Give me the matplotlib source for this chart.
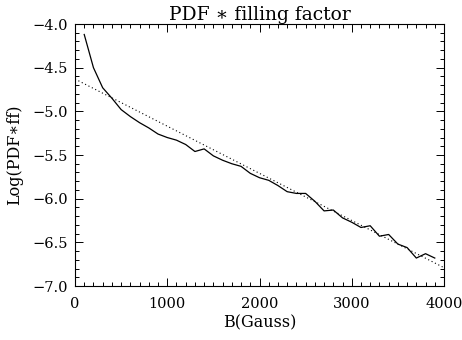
import numpy as np
import matplotlib
matplotlib.use('Agg')
import matplotlib.pyplot as plt
from matplotlib.ticker import MultipleLocator, FuncFormatter

plt.rcParams['font.family'] = ['DejaVu Serif', 'DejaVu Sans']

# B field (Gauss) and log(PDF*ff)
b = [100, 200, 300, 400, 500, 600, 700, 800, 900, 1000,
     1100, 1200, 1300, 1400, 1500, 1600, 1700, 1800, 1900, 2000,
     2100, 2200, 2300, 2400, 2500, 2600, 2700, 2800, 2900, 3000,
     3100, 3200, 3300, 3400, 3500, 3600, 3700, 3800, 3900]
logpdf = [-4.12, -4.50, -4.73, -4.85, -4.98, -5.06, -5.13, -5.19, -5.26, -5.30,
          -5.33, -5.38, -5.46, -5.43, -5.51, -5.56, -5.60, -5.63, -5.71, -5.76,
          -5.79, -5.85, -5.92, -5.94, -5.94, -6.03, -6.14, -6.13, -6.22, -6.27,
          -6.33, -6.31, -6.43, -6.41, -6.52, -6.56, -6.68, -6.63, -6.68]

# linear fit (slope, intercept)
fit = [-0.00054, -4.63]
bfit = [0, 4000]

fig = plt.figure(figsize=(4.62, 3.4), dpi=100)
ax = fig.add_axes([75/462, 1 - 286/340, 369/462, 262/340])

ax.plot(b, logpdf, color='black', lw=0.9)
ax.plot(bfit, np.polyval(fit, bfit), color='black', lw=0.8, linestyle=(0, (1, 2.4)))

ax.set_xlim(0, 4000)
ax.set_ylim(-7.0, -4.0)
ax.xaxis.set_major_locator(MultipleLocator(1000))
ax.xaxis.set_minor_locator(MultipleLocator(100))
ax.yaxis.set_major_locator(MultipleLocator(0.5))
ax.yaxis.set_minor_locator(MultipleLocator(0.1))
ax.yaxis.set_major_formatter(FuncFormatter(lambda v, p: ('%.1f' % v).replace('-', '\u2212')))
ax.tick_params(which='both', direction='in', top=True, right=True, labelsize=10.5, width=0.7)
ax.tick_params(which='major', length=6)
ax.tick_params(axis='x', which='major', pad=8)
ax.tick_params(axis='y', which='major', pad=5)
ax.tick_params(which='minor', length=3)
for s in ax.spines.values():
    s.set_linewidth(0.8)

ax.set_title('PDF \u2217 filling factor', fontsize=13.5, pad=3)
ax.set_xlabel('B(Gauss)', fontsize=11.5, labelpad=2)
ax.set_ylabel('Log(PDF\u2217ff)', fontsize=11.5, labelpad=7)

fig.savefig('out.png', dpi=100)
